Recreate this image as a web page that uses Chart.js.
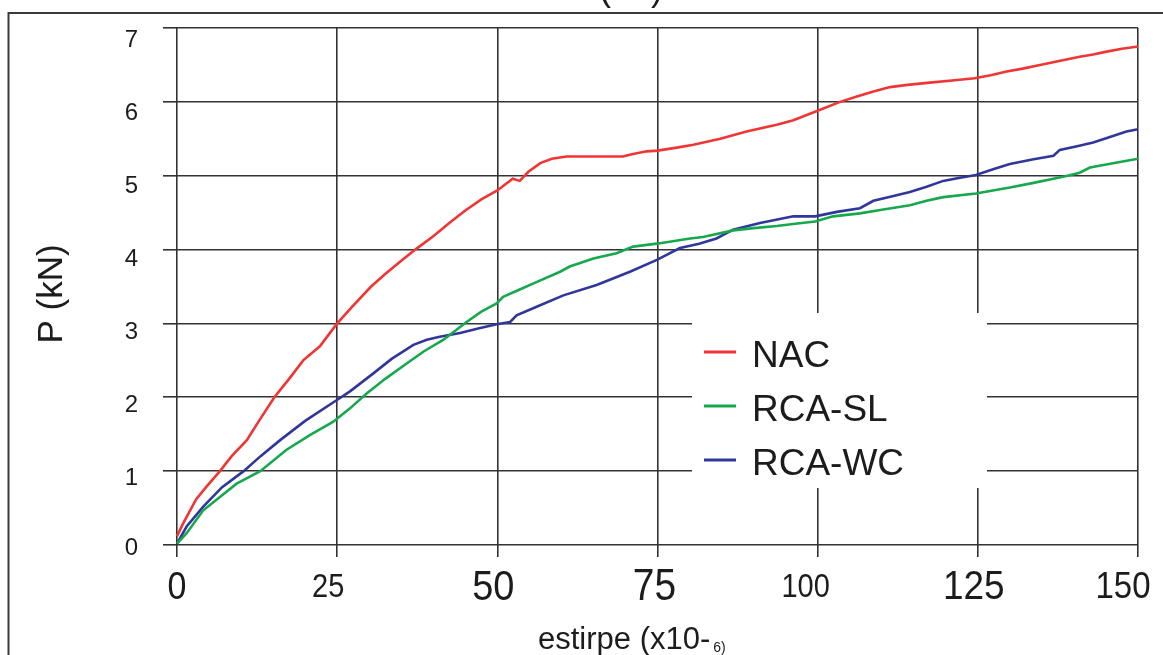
<!DOCTYPE html>
<html>
<head>
<meta charset="utf-8">
<script src="https://cdn.jsdelivr.net/npm/chart.js@4/dist/chart.umd.min.js"></script>
<style>
  html, body { margin: 0; padding: 0; background: #fff; }
  #wrap { width: 1163px; height: 655px; position: relative; overflow: hidden; }
</style>
</head>
<body>
<div id="wrap"><canvas id="c" width="1163" height="655"></canvas></div>
<script>
// Load (kN) against strain (x10^-6) for the three concrete mixes
const nacStrain = [0, 1, 3, 4.5, 6.7, 8.5, 10.9, 12.8, 15.2, 17.5, 19.7, 22.3, 25, 27.5, 30.3,
  32.5, 35, 37.5, 40, 42.5, 45, 47.5, 50, 52.4, 53.5, 54.8, 56.7, 58.5, 60.8, 65,
  69.6, 71, 73.3, 75, 78, 80.6, 84.8, 88.9, 93.6, 96.2, 100, 103.5, 106, 108.7, 111.3,
  114, 117.5, 121, 124.5, 127, 129.5, 132, 134.7, 137.5, 140.9, 143, 145.1, 147.5, 150, 151];
const nacLoad = [0.12, 0.3, 0.62, 0.78, 1.0, 1.2, 1.42, 1.68, 2.0, 2.25, 2.5, 2.69, 3.0, 3.24, 3.5,
  3.67, 3.85, 4.02, 4.18, 4.36, 4.53, 4.68, 4.8, 4.96, 4.93, 5.05, 5.17, 5.23, 5.26, 5.26,
  5.26, 5.29, 5.33, 5.34, 5.38, 5.42, 5.5, 5.6, 5.69, 5.75, 5.88, 6.0, 6.07, 6.14, 6.2,
  6.23, 6.26, 6.29, 6.32, 6.36, 6.41, 6.45, 6.5, 6.55, 6.61, 6.64, 6.68, 6.72, 6.75, 6.76];

const slStrain = [0, 1.5, 4.1, 6.7, 9.3, 13, 17.1, 20.8, 24.4, 27, 29.6, 32.5, 35.9, 38.5, 41.6,
  45.2, 47.5, 49.9, 50.9, 53.5, 56.1, 59.8, 61.3, 65, 68.6, 71.2, 74.9, 80.1, 82.1, 86.8,
  90, 93.6, 96.5, 99.6, 102.4, 106.6, 110, 114.4, 117, 119.6, 124.7, 130, 133.5, 136.8, 139,
  140.9, 142.5, 146.1, 150, 151];
const slLoad = [0.02, 0.16, 0.47, 0.65, 0.83, 1.0, 1.29, 1.49, 1.67, 1.85, 2.05, 2.25, 2.46, 2.62, 2.78,
  3.02, 3.16, 3.27, 3.36, 3.46, 3.56, 3.7, 3.77, 3.88, 3.95, 4.04, 4.08, 4.15, 4.17, 4.26,
  4.29, 4.32, 4.35, 4.38, 4.45, 4.49, 4.54, 4.6, 4.66, 4.71, 4.76, 4.84, 4.9, 4.96, 5.0,
  5.04, 5.11, 5.17, 5.23, 5.24];

const wcStrain = [0, 1.5, 4.1, 7, 10.4, 13, 16.1, 20, 24.9, 27, 30.6, 33.5, 36.9, 39, 41,
  44.2, 47, 49.9, 52, 53, 56.5, 60.3, 65.5, 70.7, 74.9, 78.5, 81.5, 84.2, 86.8, 91,
  96.2, 99.6, 103, 106.6, 108.7, 111.5, 114.4, 117, 119.6, 122, 124.7, 127.5, 130, 133.5, 136.8,
  137.8, 140.5, 143, 145.5, 148.2, 150, 151];
const wcLoad = [0.02, 0.25, 0.52, 0.78, 1.0, 1.2, 1.42, 1.68, 1.96, 2.08, 2.32, 2.52, 2.71, 2.78, 2.82,
  2.87, 2.93, 2.99, 3.02, 3.11, 3.24, 3.38, 3.52, 3.7, 3.86, 4.02, 4.08, 4.15, 4.27, 4.36,
  4.45, 4.45, 4.51, 4.56, 4.66, 4.72, 4.78, 4.85, 4.93, 4.97, 5.01, 5.09, 5.16, 5.22, 5.27,
  5.35, 5.4, 5.45, 5.52, 5.6, 5.63, 5.64];

const seriesNames = ['NAC', 'RCA-SL', 'RCA-WC'];
const xTickValues = [0, 25, 50, 75, 100, 125, 150];
const xTickLabels = ['0', '25', '50', '75', '100', '125', '150'];
const yTickValues = [0, 1, 2, 3, 4, 5, 6, 7];
const yTickLabels = ['0', '1', '2', '3', '4', '5', '6', '7'];

// styling
const FONT = "'Liberation Sans', Arial, Helvetica, sans-serif";
const INK = '#1c1c1c';
const GRID = '#333333';
const seriesColors = ['#f03535', '#17a84e', '#30379b'];
const xLabelSize = [34, 29, 38, 39, 29, 37, 33];
const xLabelShift = [0, -9, -4, -3, -12, -4, -15];
const yLabelDrop = [3, 7, 8, 9, 10, 11, 12, 12];

function toPoints(xs, ys) {
  return xs.map((x, i) => ({ x: x, y: ys[i] }));
}

const backdrop = {
  id: 'backdrop',
  beforeDraw(chart) {
    const c = chart.ctx;
    c.save();
    c.fillStyle = '#ffffff';
    c.fillRect(0, 0, chart.width, chart.height);
    c.restore();
  }
};

const decor = {
  id: 'decor',
  afterDraw(chart) {
    const c = chart.ctx;
    const xs = chart.scales.x;
    const ys = chart.scales.y;
    c.save();

    // outer frame of the panel
    c.strokeStyle = '#3a3a3a';
    c.lineWidth = 2;
    c.beginPath();
    c.moveTo(8.5, 655);
    c.lineTo(8.5, 13);
    c.lineTo(1163, 13);
    c.stroke();

    // panel caption, mostly above the top edge
    c.fillStyle = INK;
    c.font = '36px ' + FONT;
    c.textAlign = 'center';
    c.textBaseline = 'alphabetic';
    c.fillText('( b )', 631, 0);

    // tick labels along the strain axis
    c.textBaseline = 'middle';
    c.textAlign = 'center';
    xTickValues.forEach((v, i) => {
      const px = xs.getPixelForValue(v) + xLabelShift[i];
      c.save();
      c.translate(px, 588);
      c.scale(1, 1.12);
      c.font = xLabelSize[i] + 'px ' + FONT;
      c.fillText(xTickLabels[i], 0, 0);
      c.restore();
    });

    // tick labels along the load axis
    c.textAlign = 'right';
    c.font = '24px ' + FONT;
    yTickValues.forEach((v, i) => {
      const py = ys.getPixelForValue(v) + yLabelDrop[i];
      c.fillText(yTickLabels[i], 138, py);
    });

    // axis titles
    c.save();
    c.translate(52, 294);
    c.rotate(-Math.PI / 2);
    c.textAlign = 'center';
    c.textBaseline = 'middle';
    c.font = '35px ' + FONT;
    c.fillText('P (kN)', 0, 0);
    c.restore();

    c.textAlign = 'left';
    c.textBaseline = 'alphabetic';
    c.font = '31px ' + FONT;
    const main = 'estirpe (x10-';
    c.fillText(main, 538, 649);
    const w = c.measureText(main).width;
    c.font = '14px ' + FONT;
    c.fillText('6)', 538 + w + 3, 652);

    // legend panel over the grid
    c.fillStyle = '#ffffff';
    c.fillRect(692, 313, 295, 175);
    chart.data.datasets.forEach((ds, i) => {
      const y = 352 + i * 54;
      c.strokeStyle = ds.borderColor;
      c.lineWidth = 3;
      c.beginPath();
      c.moveTo(704, y);
      c.lineTo(736, y);
      c.stroke();
      c.fillStyle = INK;
      c.font = '37px ' + FONT;
      c.textBaseline = 'alphabetic';
      c.textAlign = 'left';
      c.fillText(ds.label, 752, y + 15);
    });

    c.restore();
  }
};

const datasets = [
  toPoints(nacStrain, nacLoad),
  toPoints(slStrain, slLoad),
  toPoints(wcStrain, wcLoad)
].map((pts, i) => ({
  label: seriesNames[i],
  data: pts,
  borderColor: seriesColors[i],
  backgroundColor: seriesColors[i],
  borderWidth: 2.6,
  pointRadius: 0,
  tension: 0,
  fill: false,
  clip: { left: 4, top: 4, right: 10, bottom: 4 }
}));

new Chart(document.getElementById('c'), {
  type: 'line',
  data: { datasets: datasets },
  options: {
    responsive: false,
    animation: false,
    devicePixelRatio: 1,
    layout: { padding: { top: 28, right: 25, left: 0, bottom: 0 } },
    plugins: {
      legend: { display: false },
      tooltip: { enabled: false },
      title: { display: false }
    },
    scales: {
      x: {
        type: 'linear',
        min: 0,
        max: 150,
        afterBuildTicks: (s) => { s.ticks = xTickValues.map(v => ({ value: v })); },
        ticks: { display: false },
        grid: { color: GRID, lineWidth: 1.6, drawTicks: true, tickLength: 12, tickColor: GRID, tickWidth: 1.6 },
        border: { display: false },
        afterFit: (s) => { s.height = 110; s.paddingLeft = 0; s.paddingRight = 0; }
      },
      y: {
        type: 'linear',
        min: 0,
        max: 7,
        afterBuildTicks: (s) => { s.ticks = yTickValues.map(v => ({ value: v })); },
        ticks: { display: false },
        grid: { color: GRID, lineWidth: 1.6, drawTicks: true, tickLength: 14, tickColor: GRID, tickWidth: 1.6 },
        border: { display: false },
        afterFit: (s) => { s.width = 177; s.paddingTop = 0; s.paddingBottom = 0; }
      }
    }
  },
  plugins: [backdrop, decor]
});
</script>
</body>
</html>
